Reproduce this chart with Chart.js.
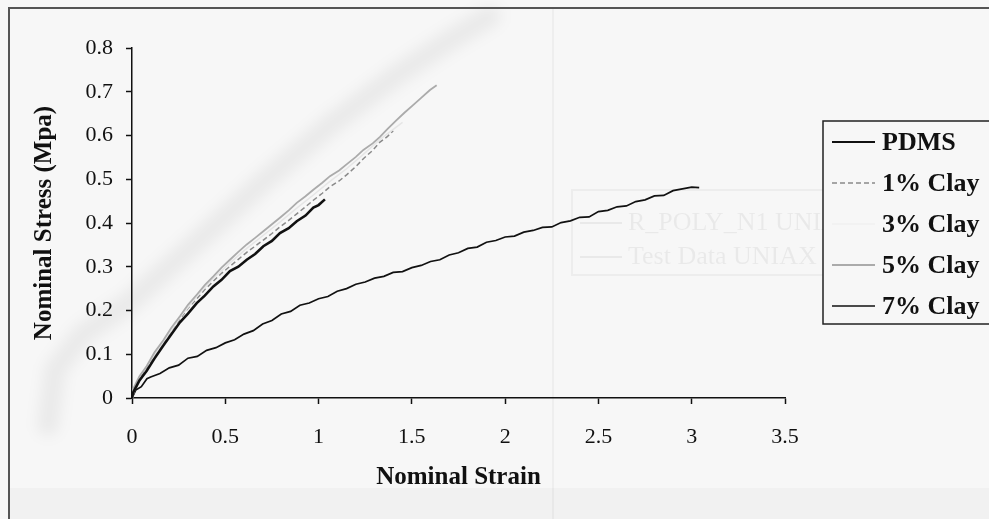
<!DOCTYPE html>
<html>
<head>
<meta charset="utf-8">
<title>Nominal stress vs nominal strain</title>
<script src="https://cdn.jsdelivr.net/npm/chart.js@4.4.1/dist/chart.umd.min.js"></script>
<style>
    html, body { margin: 0; padding: 0; background: #f7f7f7; }
    #wrap { width: 989px; height: 519px; position: relative; }
</style>
</head>
<body>
<div id="wrap"><canvas id="stressChart" width="989" height="519"></canvas></div>
<script>
// series labels (legend order)
const seriesNames = ['PDMS', '1% Clay', '3% Clay', '5% Clay', '7% Clay'];

// axis ticks
const strainTicks = [0, 0.5, 1, 1.5, 2, 2.5, 3, 3.5];
const stressTicks = [0, 0.1, 0.2, 0.3, 0.4, 0.5, 0.6, 0.7, 0.8];

// PDMS
const strainPDMS = [0, 0.007, 0.04, 0.079, 0.12, 0.168, 0.21, 0.257, 0.30, 0.347, 0.39, 0.436, 0.48, 0.525,
    0.57, 0.615, 0.66, 0.704, 0.75, 0.793, 0.84, 0.883, 0.93, 0.972, 1.0, 1.034];
const stressPDMS = [0, 0.013, 0.040, 0.062, 0.090, 0.120, 0.145, 0.173, 0.193, 0.217, 0.234, 0.255, 0.270, 0.290,
    0.300, 0.316, 0.329, 0.347, 0.359, 0.377, 0.388, 0.404, 0.417, 0.435, 0.441, 0.454];

// 1% Clay
const strain1 = [0, 0.005, 0.04, 0.079, 0.12, 0.168, 0.21, 0.257, 0.30, 0.347, 0.39, 0.436, 0.48, 0.525, 0.57,
    0.615, 0.66, 0.704, 0.75, 0.793, 0.84, 0.883, 0.93, 0.972, 1.02, 1.061, 1.11, 1.15, 1.20, 1.24, 1.29, 1.329, 1.37, 1.40];
const stress1 = [0, 0.016, 0.046, 0.068, 0.098, 0.126, 0.154, 0.180, 0.205, 0.227, 0.248, 0.267, 0.285, 0.301, 0.317,
    0.333, 0.347, 0.361, 0.376, 0.391, 0.406, 0.421, 0.437, 0.452, 0.468, 0.483, 0.496, 0.510, 0.529, 0.547, 0.566, 0.585, 0.598, 0.611];

// 3% Clay
const strain3 = [0, 0.04, 0.10, 0.168, 0.257, 0.347, 0.436, 0.525, 0.615, 0.704, 0.793, 0.883, 0.972, 1.061,
    1.15, 1.24, 1.329, 1.45];
const stress3 = [0, 0.048, 0.086, 0.128, 0.184, 0.232, 0.273, 0.309, 0.342, 0.372, 0.402, 0.434, 0.464, 0.495,
    0.524, 0.557, 0.591, 0.630];

// 5% Clay
const strain5 = [0, 0.005, 0.04, 0.079, 0.12, 0.168, 0.21, 0.257, 0.30, 0.347, 0.39, 0.436, 0.48, 0.525, 0.57,
    0.615, 0.66, 0.704, 0.75, 0.793, 0.84, 0.883, 0.93, 0.972, 1.02, 1.061, 1.11, 1.15, 1.20, 1.24, 1.29, 1.329,
    1.37, 1.418, 1.46, 1.508, 1.55, 1.597, 1.633];
const stress5 = [0, 0.020, 0.050, 0.073, 0.104, 0.132, 0.160, 0.187, 0.213, 0.236, 0.258, 0.278, 0.298, 0.316, 0.334,
    0.351, 0.366, 0.381, 0.397, 0.412, 0.429, 0.446, 0.461, 0.476, 0.492, 0.507, 0.520, 0.534, 0.551, 0.567, 0.582, 0.597,
    0.615, 0.635, 0.652, 0.670, 0.686, 0.704, 0.715];

// 7% Clay (long, jagged curve)
const strain7 = [0, 0.02, 0.05, 0.08, 0.10, 0.15, 0.20, 0.25, 0.30, 0.35, 0.40, 0.45, 0.50, 0.55, 0.60, 0.65, 0.70,
    0.75, 0.80, 0.85, 0.90, 0.95, 1.00, 1.05, 1.10, 1.15, 1.20, 1.25, 1.30, 1.35, 1.40, 1.45, 1.50, 1.55, 1.60,
    1.65, 1.70, 1.75, 1.80, 1.85, 1.90, 1.95, 2.00, 2.05, 2.10, 2.15, 2.20, 2.25, 2.30, 2.35, 2.40, 2.45, 2.50,
    2.55, 2.60, 2.65, 2.70, 2.75, 2.80, 2.85, 2.90, 2.95, 3.00, 3.04];
const stress7 = [0, 0.018, 0.026, 0.044, 0.048, 0.056, 0.069, 0.075, 0.091, 0.095, 0.109, 0.115, 0.126, 0.133, 0.146, 0.154, 0.169,
    0.177, 0.192, 0.198, 0.212, 0.217, 0.227, 0.232, 0.244, 0.250, 0.260, 0.265, 0.274, 0.278, 0.287, 0.289, 0.298, 0.303, 0.312,
    0.316, 0.327, 0.332, 0.342, 0.345, 0.356, 0.360, 0.368, 0.370, 0.379, 0.383, 0.390, 0.391, 0.401, 0.405, 0.413, 0.414, 0.426,
    0.429, 0.437, 0.439, 0.449, 0.453, 0.462, 0.463, 0.474, 0.478, 0.482, 0.481];

function toPoints(xs, ys) {
    return xs.map((x, i) => ({ x: x, y: ys[i] }));
}

const serif = "'Liberation Serif', 'Times New Roman', serif";
const bg = '#f7f7f7';

// line styles, same order as seriesNames
const lineStyles = [
    { color: '#111111', width: 2.6, dash: [] },
    { color: '#8a8a8a', width: 1.5, dash: [5, 3] },
    { color: '#e6e6e6', width: 1.5, dash: [] },
    { color: '#ababab', width: 1.8, dash: [] },
    { color: '#111111', width: 1.7, dash: [] }
];

// scanned-page background: outer frame, faint bleed-through box and band
const pageBackground = {
    id: 'pageBackground',
    beforeDraw(chart) {
        const ctx = chart.ctx;
        ctx.save();
        ctx.fillStyle = bg;
        ctx.fillRect(0, 0, chart.width, chart.height);
        ctx.fillStyle = '#f1f1f1';
        ctx.fillRect(10, 488, chart.width, 31);

        // faint blurred band showing through the page
        ctx.filter = 'blur(7px)';
        ctx.strokeStyle = 'rgba(0,0,0,0.05)';
        ctx.lineWidth = 22;
        ctx.lineCap = 'round';
        ctx.beginPath();
        ctx.moveTo(48, 425);
        ctx.lineTo(55, 370);
        ctx.lineTo(82, 335);
        ctx.lineTo(130, 302);
        ctx.lineTo(197, 242);
        ctx.lineTo(263, 182);
        ctx.lineTo(330, 125);
        ctx.lineTo(397, 75);
        ctx.lineTo(447, 42);
        ctx.lineTo(490, 16);
        ctx.stroke();
        ctx.filter = 'none';

        // faint vertical crease
        ctx.strokeStyle = 'rgba(0,0,0,0.035)';
        ctx.lineWidth = 2;
        ctx.beginPath();
        ctx.moveTo(553, 9);
        ctx.lineTo(553, 519);
        ctx.stroke();

        // bleed-through legend box
        ctx.strokeStyle = 'rgba(0,0,0,0.04)';
        ctx.lineWidth = 2;
        ctx.strokeRect(572, 190, 440, 85);
        ctx.fillStyle = 'rgba(0,0,0,0.055)';
        ctx.font = '26px ' + serif;
        ctx.textBaseline = 'middle';
        ctx.fillText('R_POLY_N1 UNIAX', 628, 223);
        ctx.fillText('Test Data UNIAX', 628, 257);
        ctx.fillRect(580, 222, 42, 2);
        ctx.fillRect(580, 256, 42, 2);

        // outer frame (left and top edges)
        ctx.strokeStyle = '#555555';
        ctx.lineWidth = 2;
        ctx.beginPath();
        ctx.moveTo(9, 519);
        ctx.lineTo(9, 8);
        ctx.lineTo(989, 8);
        ctx.stroke();
        ctx.restore();
    }
};

// boxed legend on the right
const boxLegend = {
    id: 'boxLegend',
    afterDraw(chart) {
        const ctx = chart.ctx;
        const left = 823, top = 121, bottom = 324;
        ctx.save();
        ctx.fillStyle = bg;
        ctx.fillRect(left, top, 200, bottom - top);
        ctx.strokeStyle = '#222222';
        ctx.lineWidth = 1.5;
        ctx.strokeRect(left, top, 200, bottom - top);
        ctx.font = 'bold 26px ' + serif;
        ctx.textBaseline = 'middle';
        ctx.fillStyle = '#111111';
        seriesNames.forEach((name, i) => {
            const y = 142 + i * 41;
            const st = lineStyles[i];
            ctx.strokeStyle = i === 2 ? '#f0f0f0' : st.color;
            ctx.lineWidth = Math.min(st.width, 2);
            ctx.setLineDash(st.dash);
            ctx.beginPath();
            ctx.moveTo(832, y);
            ctx.lineTo(875, y);
            ctx.stroke();
            ctx.setLineDash([]);
            ctx.fillText(name, 882, y + 1);
        });
        ctx.restore();
    }
};

const seriesData = [
    toPoints(strainPDMS, stressPDMS),
    toPoints(strain1, stress1),
    toPoints(strain3, stress3),
    toPoints(strain5, stress5),
    toPoints(strain7, stress7)
];

const drawOrder = [1, 4, 3, 2, 5];

const datasets = seriesNames.map((name, i) => ({
    label: name,
    data: seriesData[i],
    borderColor: lineStyles[i].color,
    borderWidth: lineStyles[i].width,
    borderDash: lineStyles[i].dash,
    pointRadius: 0,
    tension: 0,
    fill: false,
    order: drawOrder[i]
}));

const ctx = document.getElementById('stressChart').getContext('2d');
new Chart(ctx, {
    type: 'line',
    data: { datasets: datasets },
    options: {
        responsive: false,
        animation: false,
        layout: { padding: { left: 10, top: 48, right: 204, bottom: 10 } },
        plugins: {
            legend: { display: false },
            tooltip: { enabled: false }
        },
        scales: {
            x: {
                type: 'linear',
                min: 0,
                max: 3.5,
                afterFit: (scale) => { scale.height = 111; },
                afterBuildTicks: (scale) => { scale.ticks = strainTicks.map(v => ({ value: v })); },
                grid: { drawOnChartArea: false, drawTicks: true, tickLength: 6, color: '#111', tickWidth: 1.5 },
                border: { display: true, color: '#111', width: 1.5 },
                ticks: {
                    color: '#111',
                    padding: 20,
                    font: { family: serif, size: 22 },
                    callback: (value) => String(value)
                },
                title: {
                    display: true,
                    text: 'Nominal Strain',
                    color: '#111',
                    font: { family: serif, size: 25, weight: 'bold', lineHeight: 1.2 },
                    padding: { top: 0, bottom: 16 }
                }
            },
            y: {
                type: 'linear',
                min: 0,
                max: 0.8,
                afterFit: (scale) => { scale.width = 122; },
                afterBuildTicks: (scale) => { scale.ticks = stressTicks.map(v => ({ value: v })); },
                grid: { drawOnChartArea: false, drawTicks: true, tickLength: 6, color: '#111', tickWidth: 1.5 },
                border: { display: true, color: '#111', width: 1.5 },
                ticks: {
                    color: '#111',
                    padding: 13,
                    font: { family: serif, size: 22 },
                    callback: (value) => String(value)
                },
                title: {
                    display: true,
                    text: 'Nominal Stress (Mpa)',
                    color: '#111',
                    font: { family: serif, size: 25, weight: 'bold', lineHeight: 1.2 },
                    padding: { top: 20, bottom: 0 }
                }
            }
        }
    },
    plugins: [pageBackground, boxLegend]
});
</script>
</body>
</html>
